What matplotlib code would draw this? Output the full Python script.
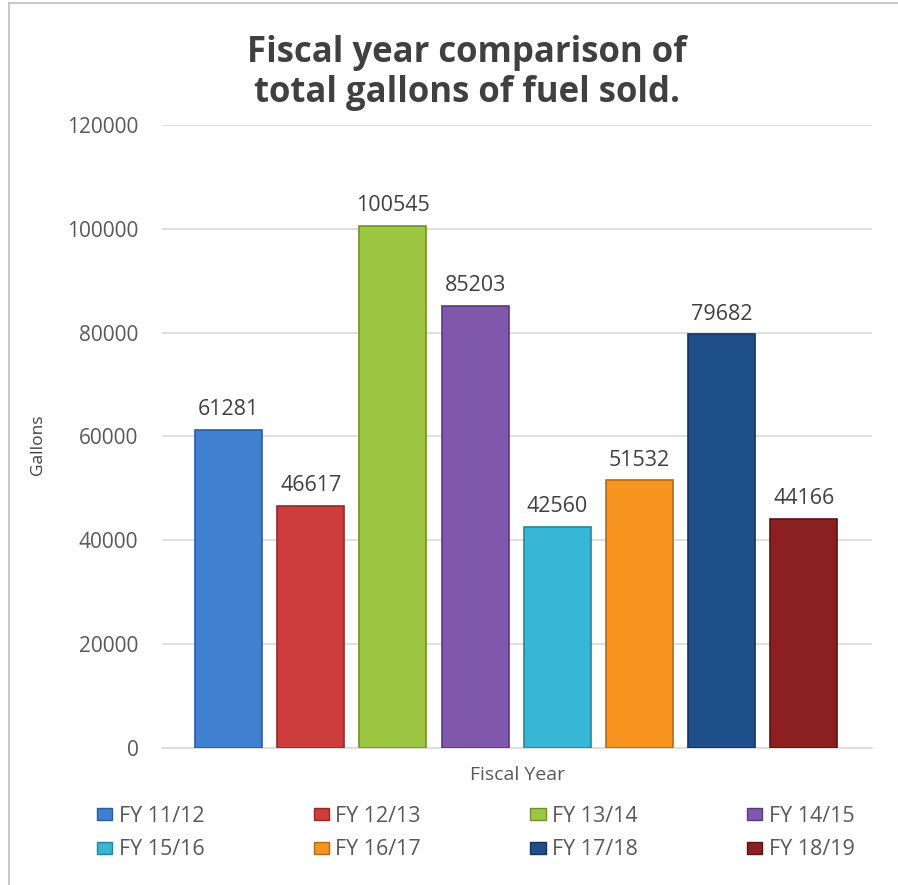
import matplotlib
matplotlib.use('Agg')
import matplotlib.pyplot as plt
from matplotlib.lines import Line2D
from matplotlib.patches import Patch

# data
years = ['FY 11/12', 'FY 12/13', 'FY 13/14', 'FY 14/15',
         'FY 15/16', 'FY 16/17', 'FY 17/18', 'FY 18/19']
gallons = [61281, 46617, 100545, 85203, 42560, 51532, 79682, 44166]
colors = ['#3f80d0', '#cc3d3b', '#9dc743', '#7f58ab',
          '#37b6d6', '#f7931f', '#1f4f88', '#8b2020']
edges = ['#2a5d9e', '#962826', '#6f922b', '#5a3b80',
         '#22859e', '#b86a10', '#12325a', '#5e1212']
yticks = [0, 20000, 40000, 60000, 80000, 100000, 120000]

plt.rcParams['font.family'] = ['Open Sans', 'DejaVu Sans']

fig = plt.figure(figsize=(8.98, 8.85), dpi=100, facecolor='white')
ax = fig.add_axes([162/898, 1-748/885, (872-162)/898, (748-125)/885])

x = list(range(len(years)))
ax.bar(x, gallons, width=0.815, color=colors, edgecolor=edges, linewidth=1.2, zorder=3)
for xi, v in zip(x, gallons):
    ax.annotate(str(v), (xi, v), xytext=(0, 14.5), textcoords='offset points',
                ha='center', va='center', fontsize=15.5, color='#404040')

ax.set_ylim(0, 120000)
ax.set_xlim(-0.81, 7.83)
ax.set_yticks(yticks)
ax.set_yticklabels([str(t) for t in yticks], fontsize=15, color='#595959')
ax.tick_params(axis='y', length=0, pad=17)
ax.set_xticks([])
ax.grid(axis='y', color='#d9d9d9', linewidth=1.2, zorder=0)
for s in ['top', 'right', 'left']:
    ax.spines[s].set_visible(False)
ax.spines['bottom'].set_color('#d9d9d9')
ax.spines['bottom'].set_linewidth(1.2)

fig.text(38/898, 1-445/885, 'Gallons', rotation=90, ha='center', va='center',
         fontsize=12.5, color='#404040')
fig.text(518/898, 1-775/885, 'Fiscal Year', ha='center', va='center',
         fontsize=14, color='#595959')
fig.text(467/898, 1-53/885, 'Fiscal year comparison of', ha='center', va='center',
         fontsize=25, fontweight='bold', color='#404040')
fig.text(467/898, 1-93/885, 'total gallons of fuel sold.', ha='center', va='center',
         fontsize=25, fontweight='bold', color='#404040')

# legend filled row by row
handles = [Patch(facecolor=c, edgecolor=e) for c, e in zip(colors, edges)]
order = [0, 4, 1, 5, 2, 6, 3, 7]
fig.legend([handles[i] for i in order], [years[i] for i in order],
           ncol=4, loc='center', bbox_to_anchor=(78/898, 1-872/885, 796/898, 78/885),
           mode='expand', frameon=False, fontsize=15.5, labelcolor='#595959',
           handlelength=0.7, handleheight=0.5, handletextpad=0.3, labelspacing=0.6)

# chart border
fig.add_artist(Line2D([9/898, 9/898], [0, 1-3/885], color='#c8c8c8', linewidth=1.5))
fig.add_artist(Line2D([9/898, 1], [1-3/885, 1-3/885], color='#c8c8c8', linewidth=1.5))

fig.savefig('out.png', dpi=100, facecolor='white')
